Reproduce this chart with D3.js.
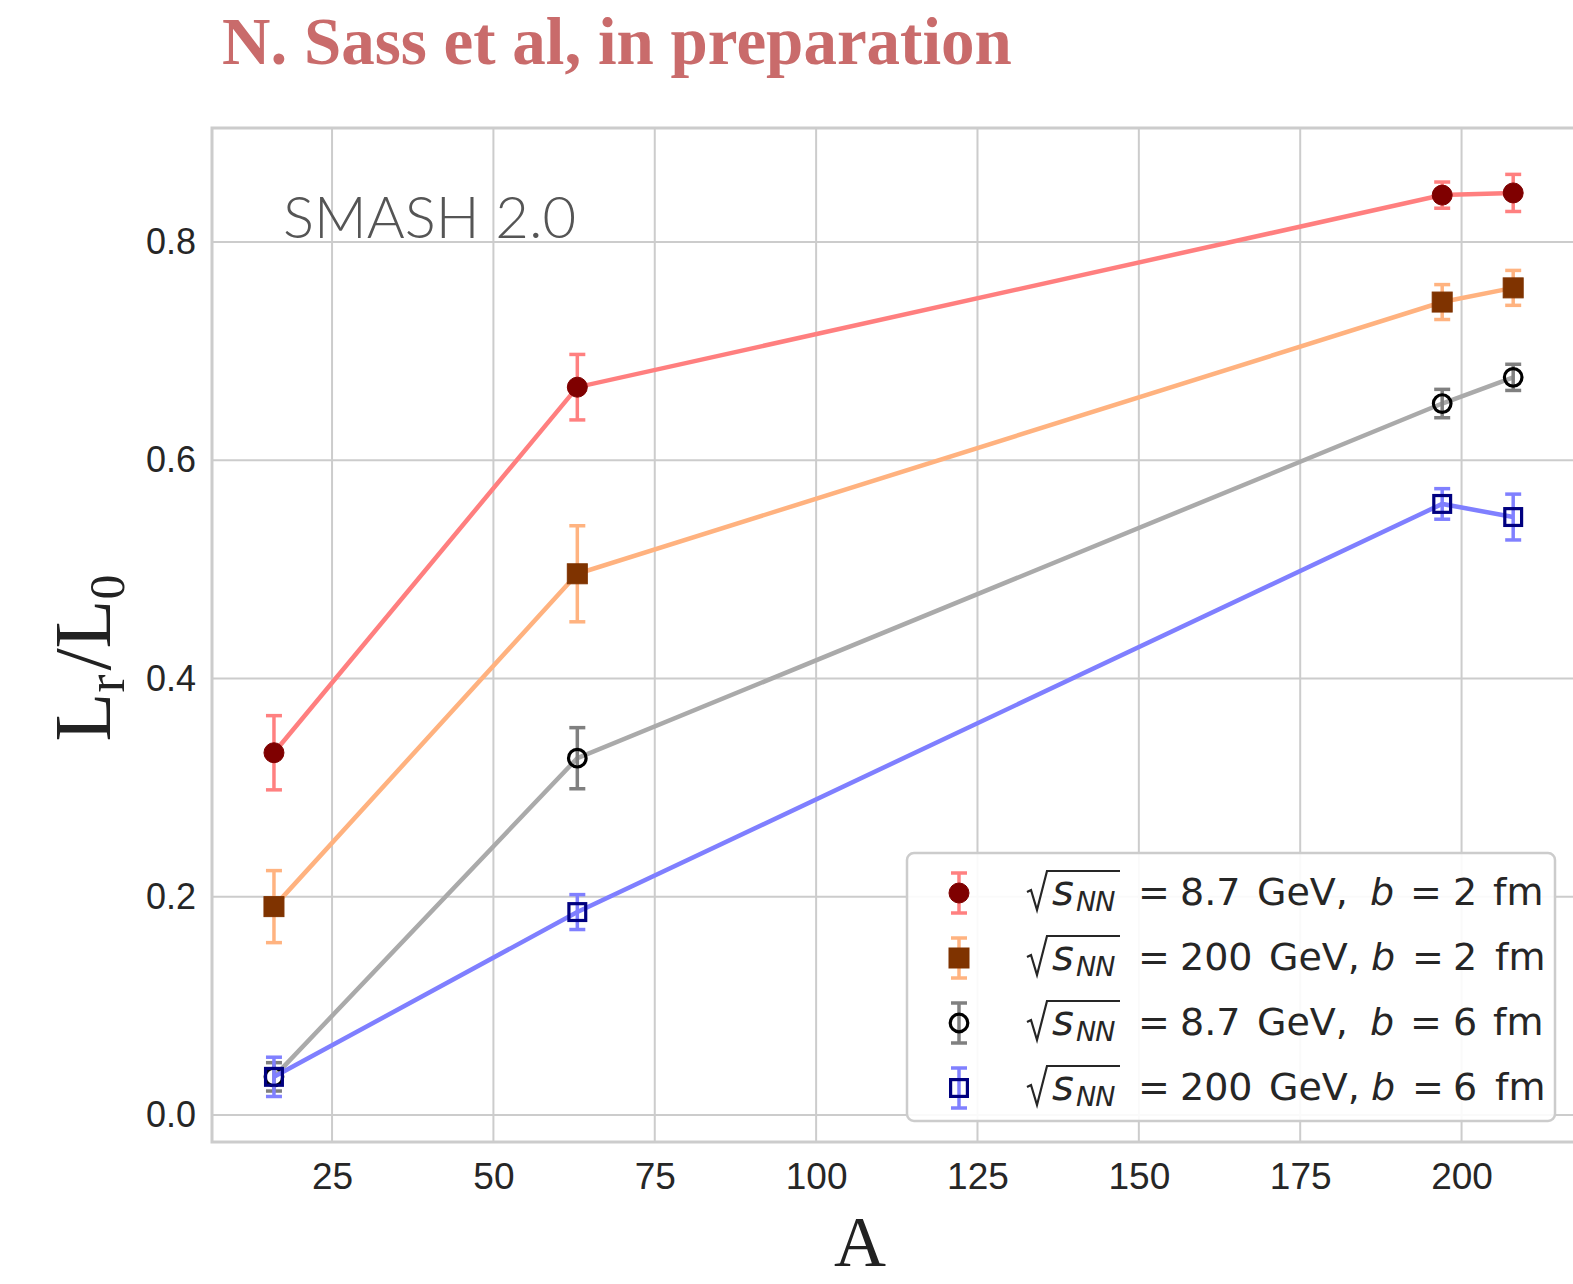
<!DOCTYPE html>
<html>
<head>
<meta charset="utf-8">
<script src="https://cdn.jsdelivr.net/npm/d3@7"></script>
<style>
  body { margin: 0; background: #fff; }
</style>
</head>
<body>
<script>
// mass numbers of the colliding nuclei (O, Cu, Au, Pb)
var massNumbers = [16, 63, 197, 208];

// L_r / L_0 values and errors, one array per series
var red87b2   = [0.332, 0.667, 0.843, 0.845];
var red87b2e  = [0.034, 0.030, 0.012, 0.017];
var or200b2   = [0.191, 0.496, 0.745, 0.758];
var or200b2e  = [0.033, 0.044, 0.016, 0.016];
var gr87b6    = [0.035, 0.327, 0.652, 0.676];
var gr87b6e   = [0.013, 0.028, 0.013, 0.012];
var bl200b6   = [0.035, 0.186, 0.560, 0.548];
var bl200b6e  = [0.018, 0.016, 0.014, 0.021];

var energies = ["8.7", "200", "8.7", "200"];
var impact   = ["2", "2", "6", "6"];

var xTicks = [25, 50, 75, 100, 125, 150, 175, 200];
var yTicks = [0.0, 0.2, 0.4, 0.6, 0.8];

var series = [
  {vals: red87b2, errs: red87b2e, line: "#ff7f7f", err: "#ff8080", mark: "circle", fill: "#7f0000", stroke: "#7f0000"},
  {vals: or200b2, errs: or200b2e, line: "#ffb27f", err: "#ffb380", mark: "square", fill: "#7f3300", stroke: "#7f3300"},
  {vals: gr87b6,  errs: gr87b6e,  line: "#aaaaaa", err: "#808080", mark: "circle", fill: "none",    stroke: "#000000"},
  {vals: bl200b6, errs: bl200b6e, line: "#7f7fff", err: "#8080ff", mark: "square", fill: "none",    stroke: "#00007f"}
];

var W = 1573, H = 1284;
var svg = d3.select("body").append("svg")
  .attr("width", W)
  .attr("height", H);

// plot box (right edge is cut off in the original)
var pLeft = 212, pRight = 1590, pTop = 128, pBottom = 1142;

var x = d3.scaleLinear().domain([6.4, 219.9]).range([pLeft, pRight]);
var y = d3.scaleLinear().domain([-0.0247, 0.9045]).range([pBottom, pTop]);

//grid
svg.append("g").selectAll("line")
  .data(xTicks).enter().append("line")
  .attr("x1", function(d){ return x(d); })
  .attr("x2", function(d){ return x(d); })
  .attr("y1", pTop).attr("y2", pBottom)
  .attr("stroke", "#cccccc").attr("stroke-width", 2);
svg.append("g").selectAll("line")
  .data(yTicks).enter().append("line")
  .attr("x1", pLeft).attr("x2", pRight)
  .attr("y1", function(d){ return y(d); })
  .attr("y2", function(d){ return y(d); })
  .attr("stroke", "#cccccc").attr("stroke-width", 2);

//frame
svg.append("rect")
  .attr("x", pLeft).attr("y", pTop)
  .attr("width", pRight - pLeft).attr("height", pBottom - pTop)
  .attr("fill", "none").attr("stroke", "#cccccc").attr("stroke-width", 3);

//tick labels
var xAxis = d3.axisBottom(x).tickValues(xTicks).tickSize(0).tickPadding(14)
  .tickFormat(d3.format("d"));
var gx = svg.append("g").attr("transform", "translate(0," + pBottom + ")").call(xAxis);
gx.select(".domain").remove();
gx.selectAll("text")
  .attr("font-family", "Liberation Sans, Arial, sans-serif")
  .attr("font-size", 37).attr("fill", "#262626")
  .attr("dy", "0.9em");

var yAxis = d3.axisLeft(y).tickValues(yTicks).tickSize(0).tickPadding(16)
  .tickFormat(d3.format(".1f"));
var gy = svg.append("g").attr("transform", "translate(" + pLeft + ",0)").call(yAxis);
gy.select(".domain").remove();
gy.selectAll("text")
  .attr("font-family", "Liberation Sans, Arial, sans-serif")
  .attr("font-size", 36).attr("fill", "#262626");

//series
var line = d3.line()
  .x(function(d, i){ return x(massNumbers[i]); })
  .y(function(d){ return y(d); });

function drawMarker(g, s, cx, cy, size) {
  if (s.mark === "circle") {
    var r = s.fill === "none" ? size * 0.44 : size * 0.5;
    g.append("circle").attr("cx", cx).attr("cy", cy).attr("r", r)
      .attr("fill", s.fill)
      .attr("stroke", s.stroke).attr("stroke-width", s.fill === "none" ? 3.2 : 1);
  } else {
    var a = s.fill === "none" ? size * 0.84 : size;
    g.append("rect").attr("x", cx - a / 2).attr("y", cy - a / 2)
      .attr("width", a).attr("height", a)
      .attr("fill", s.fill)
      .attr("stroke", s.stroke).attr("stroke-width", s.fill === "none" ? 3.2 : 1);
  }
}

function drawErr(g, color, cx, y1, y2) {
  g.append("line").attr("x1", cx).attr("x2", cx).attr("y1", y1).attr("y2", y2)
    .attr("stroke", color).attr("stroke-width", 3.5);
  [y1, y2].forEach(function(yy){
    g.append("line").attr("x1", cx - 8).attr("x2", cx + 8).attr("y1", yy).attr("y2", yy)
      .attr("stroke", color).attr("stroke-width", 3.5);
  });
}

series.forEach(function(s){
  var g = svg.append("g");
  g.append("path").datum(s.vals).attr("d", line)
    .attr("fill", "none").attr("stroke", s.line).attr("stroke-width", 4.5);
  s.vals.forEach(function(v, i){
    drawErr(g, s.err, x(massNumbers[i]), y(v + s.errs[i]), y(v - s.errs[i]));
  });
  s.vals.forEach(function(v, i){
    drawMarker(g, s, x(massNumbers[i]), y(v), 20);
  });
});

//SMASH label
svg.append("text")
  .attr("x", 283).attr("y", 238)
  .attr("font-family", "Lato, Open Sans, sans-serif")
  .attr("font-weight", 300)
  .attr("font-size", 58).attr("fill", "#555555")
  .text("SMASH 2.0");

//legend
var lg = svg.append("g");
lg.append("rect")
  .attr("x", 907).attr("y", 853).attr("width", 648).attr("height", 268)
  .attr("rx", 7).attr("fill", "#ffffff").attr("fill-opacity", 0.9)
  .attr("stroke", "#cccccc").attr("stroke-width", 2.5);

var rowY = [893, 958, 1023, 1088];
var pieceX = {
  "8.7": {num: 1180, gev: 1257, b: 1370, eq: 1410, val: 1453, fm: 1493},
  "200": {num: 1180, gev: 1269, b: 1371, eq: 1412, val: 1453, fm: 1495}
};
var lf = "DejaVu Sans, Verdana, sans-serif";

series.forEach(function(s, i){
  var cy = rowY[i], cx = 959;
  drawErr(lg, s.err, cx, cy - 20, cy + 20);
  drawMarker(lg, s, cx, cy, 20);

  var base = cy + 12;
  // radical sign
  lg.append("path")
    .attr("d", "M1027," + (base - 13) + " L1031," + (base - 15) + " L1037," + (base + 5) +
               " L1047," + (base - 34) + " L1120," + (base - 34))
    .attr("fill", "none").attr("stroke", "#262626").attr("stroke-width", 2.2);
  lg.append("text").attr("x", 1052).attr("y", base)
    .attr("font-family", lf).attr("font-style", "italic").attr("font-size", 42)
    .attr("fill", "#262626").text("s");
  lg.append("text").attr("x", 1076).attr("y", base + 6)
    .attr("font-family", lf).attr("font-style", "italic").attr("font-size", 27)
    .attr("letter-spacing", -1)
    .attr("fill", "#262626").text("NN");

  var px = pieceX[energies[i]];
  var pieces = [
    {t: "=", x: 1138, it: false},
    {t: energies[i], x: px.num, it: false},
    {t: "GeV,", x: px.gev, it: false},
    {t: "b", x: px.b, it: true},
    {t: "=", x: px.eq, it: false},
    {t: impact[i], x: px.val, it: false},
    {t: "fm", x: px.fm, it: false}
  ];
  pieces.forEach(function(p){
    lg.append("text").attr("x", p.x).attr("y", base)
      .attr("font-family", lf).attr("font-size", 38)
      .attr("font-style", p.it ? "italic" : "normal")
      .attr("fill", "#262626").text(p.t);
  });
});

//axis titles
var yl = svg.append("text")
  .attr("transform", "translate(110,658) rotate(-90)")
  .attr("text-anchor", "middle")
  .attr("font-family", "Liberation Serif, Times New Roman, serif")
  .attr("font-size", 80).attr("fill", "#222222");
yl.append("tspan").text("L");
yl.append("tspan").attr("font-size", 54).attr("dy", 14).text("r");
yl.append("tspan").attr("dy", -14).attr("dx", 4).text("/L");
yl.append("tspan").attr("font-size", 50).attr("dy", 14).text("0");

svg.append("text")
  .attr("x", 860).attr("y", 1266)
  .attr("text-anchor", "middle")
  .attr("font-family", "Liberation Serif, Times New Roman, serif")
  .attr("font-size", 72).attr("fill", "#222222")
  .text("A");

//header
svg.append("text")
  .attr("x", 222).attr("y", 64)
  .attr("font-family", "Liberation Serif, Times New Roman, serif")
  .attr("font-weight", "bold")
  .attr("font-size", 67).attr("fill", "#c96b6b")
  .text("N. Sass et al, in preparation");
</script>
</body>
</html>
